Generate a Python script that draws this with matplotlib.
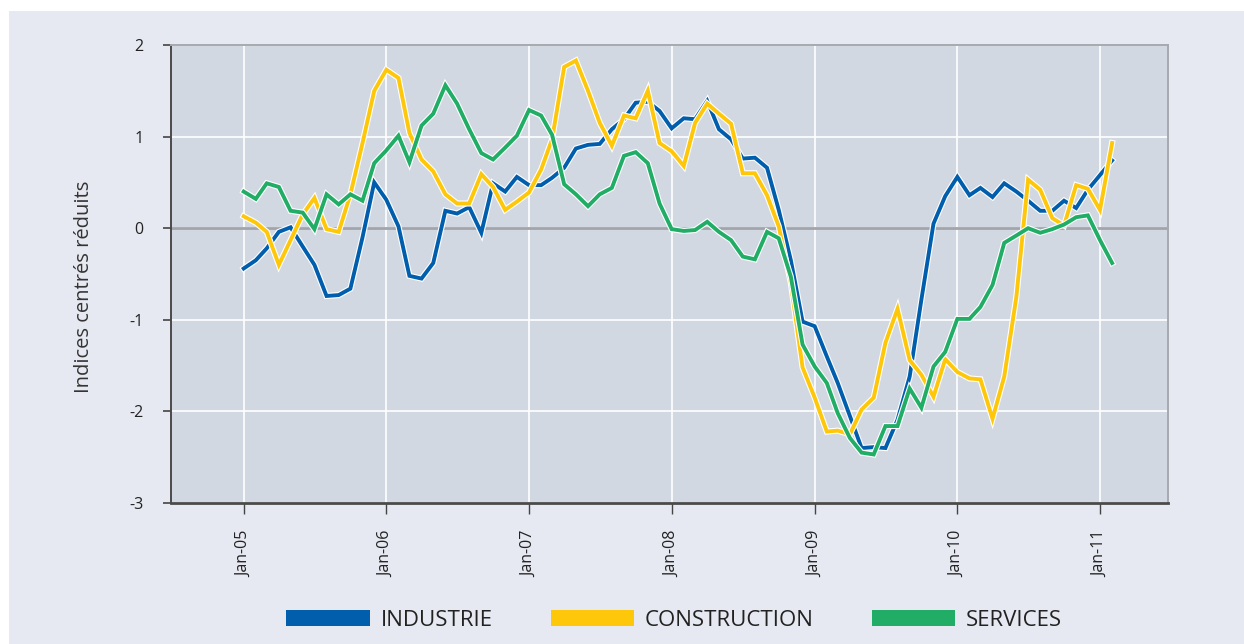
import matplotlib
matplotlib.use("Agg")
import matplotlib.pyplot as plt
import matplotlib.dates as mdates
import matplotlib.patheffects as pe
from matplotlib.patches import Rectangle, Patch
import pandas as pd

# monthly indices, Jan-05 .. Feb-11
months = pd.date_range("2005-01-01", periods=74, freq="MS")

industrie = [
    -0.44, -0.35, -0.22, -0.04, 0.01, -0.20, -0.40, -0.74, -0.73, -0.66, -0.10, 0.50,
    0.31, 0.02, -0.52, -0.55, -0.38, 0.19, 0.16, 0.23, -0.05, 0.49, 0.40, 0.56,
    0.47, 0.47, 0.55, 0.66, 0.87, 0.91, 0.92, 1.08, 1.19, 1.37, 1.38, 1.28,
    1.09, 1.20, 1.19, 1.39, 1.08, 0.97, 0.76, 0.77, 0.66, 0.20, -0.35, -1.02,
    -1.07, -1.40, -1.69, -2.05, -2.40, -2.39, -2.40, -2.09, -1.62, -0.78, 0.05, 0.35,
    0.56, 0.36, 0.44, 0.34, 0.49, 0.40, 0.30, 0.19, 0.19, 0.30, 0.22, 0.42,
    0.58, 0.74,
]
construction = [
    0.13, 0.06, -0.04, -0.40, -0.13, 0.15, 0.33, -0.01, -0.04, 0.37, 0.93, 1.50,
    1.73, 1.64, 1.04, 0.75, 0.62, 0.37, 0.27, 0.27, 0.59, 0.45, 0.20, 0.29,
    0.39, 0.64, 0.97, 1.76, 1.83, 1.50, 1.15, 0.90, 1.23, 1.20, 1.50, 0.93,
    0.84, 0.68, 1.15, 1.36, 1.25, 1.14, 0.60, 0.60, 0.36, 0.02, -0.60, -1.52,
    -1.85, -2.22, -2.21, -2.25, -1.98, -1.85, -1.25, -0.88, -1.44, -1.60, -1.84, -1.43,
    -1.57, -1.64, -1.65, -2.08, -1.62, -0.75, 0.53, 0.42, 0.11, 0.03, 0.47, 0.43,
    0.20, 0.93,
]
services = [
    0.40, 0.32, 0.49, 0.45, 0.19, 0.17, -0.01, 0.37, 0.26, 0.37, 0.30, 0.71,
    0.85, 1.01, 0.72, 1.12, 1.25, 1.56, 1.36, 1.08, 0.82, 0.75, 0.88, 1.01,
    1.29, 1.23, 1.02, 0.48, 0.37, 0.24, 0.37, 0.44, 0.79, 0.83, 0.71, 0.27,
    -0.01, -0.03, -0.02, 0.07, -0.04, -0.13, -0.31, -0.34, -0.04, -0.11, -0.53, -1.27,
    -1.51, -1.69, -2.02, -2.29, -2.45, -2.47, -2.16, -2.16, -1.75, -1.96, -1.51, -1.35,
    -0.99, -0.99, -0.86, -0.62, -0.16, -0.08, 0.00, -0.05, -0.01, 0.04, 0.12, 0.14,
    -0.13, -0.38,
]

series_names = ["INDUSTRIE", "CONSTRUCTION", "SERVICES"]
series_colors = ["#005eac", "#fec70a", "#21ad66"]

plt.rcParams["font.family"] = ["Open Sans", "DejaVu Sans"]
plt.rcParams["axes.unicode_minus"] = False

fig = plt.figure(figsize=(12.44, 6.44), dpi=100)
fig.patch.set_facecolor("white")
fig.patches.append(Rectangle((9 / 1244, 0), 1, 1 - 11 / 644, transform=fig.transFigure,
                             facecolor="#e6e9f1", edgecolor="none", zorder=-10))

ax = fig.add_axes([171 / 1244, 1 - 503 / 644, (1168 - 171) / 1244, (503 - 45) / 644])
ax.set_facecolor("#d1d8e2")

for vals, name, col in zip([industrie, construction, services], series_names, series_colors):
    ax.plot(months, vals, color=col, linewidth=2.8, solid_joinstyle="miter", zorder=3,
            path_effects=[pe.Stroke(linewidth=4.4, foreground="white"), pe.Normal()])

ax.axhline(0, color="#a2a4a9", linewidth=2, zorder=2)

ax.set_ylim(-3, 2)
ax.set_yticks([-3, -2, -1, 0, 1, 2])
ax.set_xlim(pd.Timestamp("2004-06-29"), pd.Timestamp("2011-06-24"))
ax.xaxis.set_major_locator(mdates.YearLocator(month=1, day=1))
ax.xaxis.set_major_formatter(mdates.DateFormatter("%b-%y"))

ax.grid(True, color="white", linewidth=1.2, zorder=1)
ax.set_axisbelow(True)

ax.tick_params(axis="x", direction="out", length=8, width=1, color="#444444",
               labelsize=11.5, labelrotation=90, labelcolor="#222222", pad=12)
ax.tick_params(axis="y", direction="out", length=6, width=1.2, color="#444444",
               labelsize=11.5, labelcolor="#222222", pad=14)
for lbl in ax.get_yticklabels():
    lbl.set_horizontalalignment("right")

for side in ["top", "right"]:
    ax.spines[side].set_color("#a6a9ae")
    ax.spines[side].set_linewidth(1.4)
ax.spines["left"].set_color("#4a4a4a")
ax.spines["left"].set_linewidth(1.4)
ax.spines["bottom"].set_color("#4a4a4a")
ax.spines["bottom"].set_linewidth(2)

ax.set_ylabel("Indices centrés réduits", fontsize=14.5, color="#333333")
ax.yaxis.set_label_coords(-0.077, 0.472)

handles = [Patch(facecolor=c, edgecolor="none") for c in series_colors]
fig.legend(handles, series_names, loc="center", bbox_to_anchor=(0.542, 1 - 620 / 644),
           ncol=3, frameon=False, fontsize=16, handlelength=3.75, handleheight=0.72,
           handletextpad=0.5, columnspacing=2.6, labelcolor="#222222")

fig.savefig("out.png", dpi=100)
